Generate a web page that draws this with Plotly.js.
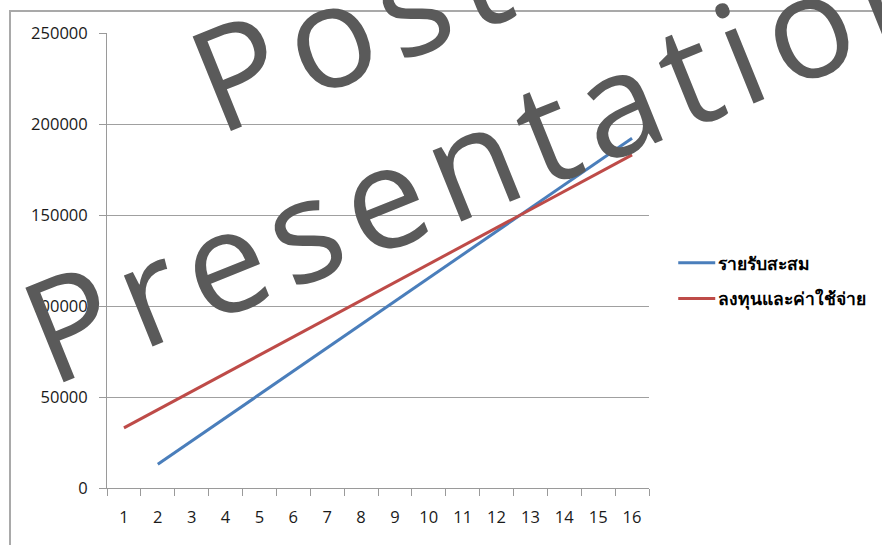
<!DOCTYPE html>
<html>
<head>
<meta charset="utf-8">
<script src="https://cdn.plot.ly/plotly-3.0.1.min.js"></script>
<style>
  html, body { margin: 0; padding: 0; background: #ffffff; }
  #frame {
    position: absolute; left: 9px; top: 10px; width: 1000px; height: 700px;
    border-left: 2px solid #a9a9a9; border-top: 2px solid #a9a9a9;
  }
  #chart { position: absolute; left: 0; top: 0; width: 882px; height: 545px; }
  .annotation-text { letter-spacing: 11.5px; }
</style>
</head>
<body>
<div id="frame"></div>
<div id="chart"></div>
<script>
// Period numbers along the horizontal axis
const periods = ['1','2','3','4','5','6','7','8','9','10','11','12','13','14','15','16'];

// Accumulated income (no value in period 1)
const incomeName = 'รายรับสะสม';
const income = [null, 13000, 25800, 38600, 51400, 64200, 77000, 89800, 102600,
                115400, 128200, 141000, 153800, 166600, 179400, 192200];

// Investment and expenses
const costName = 'ลงทุนและค่าใช้จ่าย';
const cost = [33000, 43000, 53000, 63000, 73000, 83000, 93000, 103000, 113000,
              123000, 133000, 143000, 153000, 163000, 173000, 183000];

// Value-axis ticks
const yTicks = [0, 50000, 100000, 150000, 200000, 250000];

const traces = [
  {
    x: periods, y: income, name: incomeName, type: 'scatter', mode: 'lines',
    line: { color: '#4a7ebb', width: 3 }, legendgroup: 'a', connectgaps: false
  },
  {
    x: periods, y: cost, name: costName, type: 'scatter', mode: 'lines',
    line: { color: '#be4b48', width: 3 }, legendgroup: 'b'
  }
];

const axisGrey = '#9a9a9a';

const layout = {
  width: 882, height: 545,
  margin: { l: 107, r: 232, t: 33, b: 57, pad: 0 },
  paper_bgcolor: 'rgba(0,0,0,0)',
  plot_bgcolor: 'rgba(0,0,0,0)',
  font: { family: 'Open Sans, sans-serif', size: 16.5, color: '#1a1a1a' },
  showlegend: true,
  legend: {
    x: 1.052, xanchor: 'left', y: 0.455, yanchor: 'middle',
    traceorder: 'grouped', tracegroupgap: 10,
    font: { family: 'Tahoma, "Noto Sans", sans-serif', size: 17.5, color: '#000000', weight: 600 },
    bgcolor: 'rgba(0,0,0,0)', borderwidth: 0
  },
  xaxis: {
    type: 'category',
    categoryorder: 'array', categoryarray: periods,
    tickson: 'boundaries',
    ticks: 'outside', ticklen: 7, tickcolor: axisGrey, tickwidth: 1,
    showline: true, linecolor: axisGrey, linewidth: 1,
    showgrid: false, zeroline: false,
    ticklabelstandoff: 14,
    range: [-0.5, 15.5]
  },
  yaxis: {
    range: [0, 250000],
    tickvals: yTicks,
    ticktext: yTicks.map(String),
    ticks: 'outside', ticklen: 7, tickcolor: axisGrey, tickwidth: 1,
    showline: true, linecolor: axisGrey, linewidth: 1,
    showgrid: true, gridcolor: '#a0a0a0', gridwidth: 1,
    zeroline: false,
    ticklabelstandoff: 8
  },
  annotations: [
    {
      text: 'Poster', xref: 'paper', yref: 'paper', x: 0.593, y: 1.092,
      xanchor: 'center', yanchor: 'middle', showarrow: false, textangle: -22,
      font: { family: 'Open Sans, sans-serif', size: 143, color: '#5a5a5a' }
    },
    {
      text: 'Presentation', xref: 'paper', yref: 'paper', x: 0.705, y: 0.741,
      xanchor: 'center', yanchor: 'middle', showarrow: false, textangle: -22,
      font: { family: 'Open Sans, sans-serif', size: 143, color: '#5a5a5a' }
    }
  ]
};

Plotly.newPlot('chart', traces, layout, { staticPlot: true, displayModeBar: false })
  .then(function (gd) {
    // Longer legend swatches (40px) sitting close to the entry text
    gd.querySelectorAll('.legendlines path').forEach(function (p) {
      p.setAttribute('d', 'M-3,0h40');
    });
  });
</script>
</body>
</html>
